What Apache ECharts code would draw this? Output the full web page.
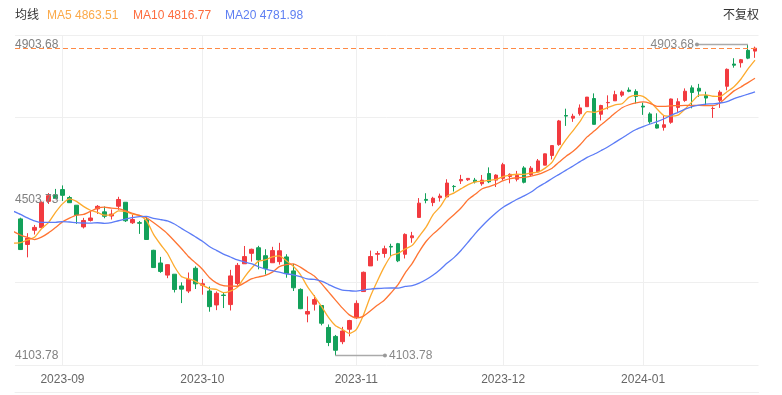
<!DOCTYPE html>
<html><head><meta charset="utf-8">
<script src="https://cdn.jsdelivr.net/npm/echarts@6/dist/echarts.min.js"></script>
<style>html,body{margin:0;padding:0;background:#fff}#c{width:782px;height:395px}</style>
</head><body><div id="c"></div>
<script>
// ---- data ----
const dates = [
'2023-08-23','2023-08-24','2023-08-25','2023-08-28','2023-08-29','2023-08-30','2023-08-31',
'2023-09-01','2023-09-05','2023-09-06','2023-09-07','2023-09-08','2023-09-11','2023-09-12','2023-09-13','2023-09-14','2023-09-15','2023-09-18','2023-09-19','2023-09-20','2023-09-21','2023-09-22','2023-09-25','2023-09-26','2023-09-27','2023-09-28','2023-09-29',
'2023-10-02','2023-10-03','2023-10-04','2023-10-05','2023-10-06','2023-10-09','2023-10-10','2023-10-11','2023-10-12','2023-10-13','2023-10-16','2023-10-17','2023-10-18','2023-10-19','2023-10-20','2023-10-23','2023-10-24','2023-10-25','2023-10-26','2023-10-27','2023-10-30','2023-10-31',
'2023-11-01','2023-11-02','2023-11-03','2023-11-06','2023-11-07','2023-11-08','2023-11-09','2023-11-10','2023-11-13','2023-11-14','2023-11-15','2023-11-16','2023-11-17','2023-11-20','2023-11-21','2023-11-22','2023-11-24','2023-11-27','2023-11-28','2023-11-29','2023-11-30',
'2023-12-01','2023-12-04','2023-12-05','2023-12-06','2023-12-07','2023-12-08','2023-12-11','2023-12-12','2023-12-13','2023-12-14','2023-12-15','2023-12-18','2023-12-19','2023-12-20','2023-12-21','2023-12-22','2023-12-26','2023-12-27','2023-12-28','2023-12-29',
'2024-01-02','2024-01-03','2024-01-04','2024-01-05','2024-01-08','2024-01-09','2024-01-10','2024-01-11','2024-01-12','2024-01-16','2024-01-17','2024-01-18','2024-01-19','2024-01-22','2024-01-23','2024-01-24','2024-01-25'
];
const opens = [
4396.44,4455.16,4389.38,4426.03,4432.75,4500.34,4517.01,
4530.60,4510.06,4490.35,4434.55,4451.30,4480.98,4473.27,4462.65,4487.78,4497.98,4445.13,4445.41,4452.81,4374.36,4341.74,4310.62,4312.88,4282.63,4269.65,4328.18,
4284.52,4269.75,4233.83,4259.31,4234.79,4289.02,4339.75,4366.59,4380.94,4360.49,4342.37,4345.23,4357.35,4321.36,4273.85,4210.40,4235.79,4232.42,4175.99,4152.93,4139.39,4171.33,
4201.27,4268.26,4334.23,4364.27,4366.21,4384.37,4391.41,4364.15,4406.66,4458.97,4505.30,4497.08,4509.55,4511.70,4538.77,4553.04,4555.84,4554.86,4545.55,4571.84,4554.87,
4559.43,4564.37,4557.25,4586.23,4568.84,4576.20,4593.39,4618.30,4646.20,4721.04,4714.23,4725.58,4743.72,4764.73,4724.29,4753.92,4758.86,4773.45,4786.44,4782.88,
4745.20,4725.07,4697.42,4690.57,4703.70,4741.93,4759.94,4792.13,4791.18,4772.35,4739.13,4760.10,4796.28,4853.42,4856.80,4888.56,4886.66
];
const highs = [
4443.18,4458.30,4418.46,4439.56,4500.14,4521.65,4532.26,
4541.25,4514.29,4490.35,4457.81,4473.53,4490.77,4487.11,4479.39,4511.99,4497.98,4466.36,4449.85,4461.03,4375.70,4357.40,4338.51,4313.01,4292.07,4317.27,4333.15,
4300.58,4281.15,4268.50,4267.13,4324.10,4341.73,4385.46,4378.64,4385.85,4377.10,4383.33,4393.57,4364.20,4339.54,4276.56,4255.84,4259.38,4232.42,4183.60,4156.70,4177.47,4195.55,
4245.64,4319.72,4373.62,4372.21,4386.26,4391.20,4393.40,4418.03,4421.76,4508.67,4521.17,4511.99,4520.12,4557.11,4542.14,4568.43,4560.31,4560.52,4568.14,4587.64,4569.89,
4599.39,4572.37,4578.56,4590.74,4590.92,4609.23,4623.18,4643.93,4709.69,4738.57,4725.53,4749.52,4768.69,4778.01,4748.71,4772.94,4784.72,4785.39,4793.30,4788.43,
4754.33,4729.29,4726.78,4721.49,4764.54,4765.47,4790.80,4798.50,4802.40,4782.34,4744.23,4785.79,4842.07,4868.41,4866.48,4903.68,4898.15
];
const lows = [
4396.44,4375.55,4356.29,4414.98,4431.68,4493.59,4507.39,
4501.35,4496.01,4442.38,4430.46,4448.38,4467.89,4456.83,4453.52,4478.69,4447.21,4442.11,4416.61,4401.38,4329.17,4316.49,4302.70,4265.98,4238.63,4264.38,4274.86,
4260.21,4216.45,4220.48,4225.91,4219.55,4283.79,4339.64,4345.34,4325.43,4311.97,4342.37,4337.54,4303.84,4269.69,4223.03,4189.22,4219.43,4181.42,4127.90,4103.78,4132.94,4153.12,
4197.74,4268.26,4334.23,4347.53,4355.41,4359.76,4343.94,4353.34,4393.82,4458.97,4495.31,4487.83,4499.66,4510.36,4525.51,4545.05,4552.80,4546.32,4540.51,4547.15,4537.24,
4554.71,4546.72,4551.68,4546.50,4565.22,4574.06,4593.39,4608.09,4643.23,4694.34,4704.69,4720.81,4743.72,4697.82,4708.35,4736.77,4758.45,4768.90,4780.98,4751.99,
4722.67,4699.71,4687.53,4682.11,4699.82,4730.35,4756.20,4739.58,4768.98,4747.12,4714.82,4740.57,4785.87,4844.05,4844.37,4865.94,4869.34
];
const closes = [
4436.01,4376.31,4405.71,4433.31,4497.63,4514.87,4507.66,
4515.77,4496.83,4465.48,4451.14,4457.49,4487.46,4461.90,4467.44,4505.10,4450.32,4453.53,4443.95,4402.20,4330.00,4320.06,4337.44,4273.53,4274.51,4299.70,4288.05,
4288.39,4229.45,4263.75,4258.19,4308.50,4335.66,4358.24,4376.95,4349.61,4327.78,4373.63,4373.20,4314.60,4278.00,4224.16,4217.04,4247.68,4186.77,4137.23,4117.37,4166.82,4193.80,
4237.86,4317.78,4358.34,4365.98,4378.38,4382.78,4347.35,4415.24,4411.55,4495.70,4502.88,4508.24,4514.02,4547.38,4538.19,4556.62,4559.34,4550.43,4554.89,4550.58,4567.80,
4594.63,4569.78,4567.18,4549.34,4585.59,4604.37,4622.44,4643.70,4707.09,4719.55,4719.19,4740.56,4768.37,4698.35,4746.75,4754.63,4774.75,4781.58,4783.35,4769.83,
4742.83,4704.81,4688.68,4697.24,4763.54,4756.50,4783.45,4780.24,4783.83,4765.98,4739.21,4780.94,4839.81,4850.43,4864.60,4868.55,4894.16
];
// closes of the 19 sessions before the first shown day (needed for the moving averages)
const priorCloses = [4537.41,4582.23,4588.96,4576.73,4513.39,4501.89,4478.03,4518.44,4499.38,4467.71,4468.83,4464.05,4489.72,4437.86,4404.33,4370.36,4369.71,4399.77,4387.55];
const monthLabels = ['2023-09','2023-10','2023-11','2023-12','2024-01'];
const yTickLabels = [4103.78, 4503.73, 4903.68];
const maPeriods = [5, 10, 20];
const maNames = ['MA5', 'MA10', 'MA20'];

// ---- derived ----
const allCloses = priorCloses.concat(closes);
function movingAverage(n) {
  const out = [];
  for (let i = 0; i < closes.length; i++) {
    const j = i + priorCloses.length;
    let s = 0;
    for (let k = j - n + 1; k <= j; k++) s += allCloses[k];
    out.push([i, s / n]);
  }
  return out;
}
const maData = maPeriods.map(movingAverage);
const maLast = maData.map(d => d[d.length - 1][1].toFixed(2));
// the first session lies mostly left of the plot edge: its candle is not drawn
const FIRST_SHOWN = 1;
const candleData = dates.map((d, i) => [i, opens[i], closes[i], lows[i], highs[i]]).slice(FIRST_SHOWN);
const monthIdx = monthLabels.map(m => dates.findIndex(d => d.slice(0, 7) === m));

let maxIdx = FIRST_SHOWN, minIdx = FIRST_SHOWN;
for (let i = FIRST_SHOWN; i < highs.length; i++) {
  if (highs[i] > highs[maxIdx]) maxIdx = i;
  if (lows[i] < lows[minIdx]) minIdx = i;
}
const maxHigh = highs[maxIdx], minLow = lows[minIdx];
const lastClose = closes[closes.length - 1];

// ---- layout constants ----
const X_MIN = 0.214, X_MAX = 106.5;
const Y_MIN = 4079.4, Y_MAX = 4928.1;
const ySplits = [0, 1, 2, 3, 4].map(k => Y_MIN + (Y_MAX - Y_MIN) * k / 4);
const FONT = "'Liberation Sans', 'Noto Sans CJK SC', sans-serif";
const UP = '#f23a3f', DOWN = '#13a15a';
const maColors = ['#fdab2e', '#ff7432', '#5c7cf6'];
const maTextColors = ['#fbaa4a', '#fd6c3e', '#5e7ff2'];

const chart = echarts.init(document.getElementById('c'), null, {renderer: 'canvas'});
const titleBase = {padding: 0, top: 10, textStyle: {fontSize: 12, fontWeight: 'normal', fontFamily: FONT}};
function mkTitle(text, left, color) {
  return Object.assign({}, titleBase, {text: text, left: left, textStyle: Object.assign({}, titleBase.textStyle, {color: color})});
}
chart.setOption({
  animation: false,
  textStyle: {fontFamily: FONT},
  title: [
    mkTitle('均线', 15, '#333'),
    mkTitle(maNames[0] + ' ' + maLast[0], 47, maTextColors[0]),
    mkTitle(maNames[1] + ' ' + maLast[1], 133, maTextColors[1]),
    mkTitle(maNames[2] + ' ' + maLast[2], 225, maTextColors[2]),
    mkTitle('不复权', 723, '#333')
  ],
  grid: {left: 15, right: 23.5, top: 35, bottom: 30, containLabel: false, outerBoundsMode: 'none'},
  xAxis: [{
    type: 'value', min: X_MIN, max: X_MAX, position: 'bottom',
    axisLine: {show: false},
    axisTick: {show: false, customValues: monthIdx},
    axisLabel: {customValues: monthIdx, formatter: v => dates[Math.round(v)].slice(0, 7), color: '#666', fontSize: 12, margin: 9},
    splitLine: {show: true, lineStyle: {color: '#efefef', width: 1}}
  }, {
    type: 'value', min: X_MIN, max: X_MAX, position: 'bottom', offset: 27,
    axisLine: {show: true, lineStyle: {color: '#efefef'}},
    axisTick: {show: false}, axisLabel: {show: false}, splitLine: {show: false}
  }],
  yAxis: [{
    type: 'value', min: Y_MIN, max: Y_MAX, position: 'left',
    axisLine: {show: false},
    axisTick: {show: false, customValues: ySplits},
    axisLabel: {show: false},
    splitLine: {show: true, lineStyle: {color: '#efefef', width: 1}}
  }, {
    type: 'value', min: Y_MIN, max: Y_MAX, position: 'left', z: 20,
    axisLine: {show: false}, axisTick: {show: false}, splitLine: {show: false},
    axisLabel: {inside: true, margin: 0, customValues: yTickLabels, formatter: v => v.toFixed(2), color: '#808080', fontSize: 12}
  }],
  series: [{
    type: 'candlestick',
    data: candleData,
    barWidth: 4,
    clip: true,
    itemStyle: {color: UP, color0: DOWN, borderColor: UP, borderColor0: DOWN, borderWidth: 1},
    markLine: {
      silent: true, symbol: ['none', 'none'], label: {show: false},
      lineStyle: {type: [5, 3], color: '#ff8a45', width: 1},
      data: [{yAxis: lastClose}]
    }
  }].concat(maData.map((d, k) => ({
    type: 'line', name: maNames[k], data: d, showSymbol: false, symbol: 'none', smooth: 0.2, clip: true,
    lineStyle: {color: maColors[k], width: 1.3}, z: 3
  }))).concat([{
    type: 'line', silent: true, z: 5, clip: false,
    lineStyle: {color: '#aaaaaa', width: 1.5}, itemStyle: {color: '#999'},
    data: [
      {value: [maxIdx, maxHigh], symbol: 'none'},
      {value: [maxIdx - 7.3, maxHigh], symbol: 'circle', symbolSize: 4,
       label: {show: true, position: 'left', distance: 1, formatter: maxHigh.toFixed(2), color: '#888', fontSize: 12}}
    ]
  }, {
    type: 'line', silent: true, z: 5, clip: false,
    lineStyle: {color: '#aaaaaa', width: 1.5}, itemStyle: {color: '#999'},
    data: [
      {value: [minIdx, minLow], symbol: 'none'},
      {value: [minIdx + 7.1, minLow], symbol: 'circle', symbolSize: 4,
       label: {show: true, position: 'right', distance: 2, formatter: minLow.toFixed(2), color: '#888', fontSize: 12}}
    ]
  }])
});
</script></body></html>
